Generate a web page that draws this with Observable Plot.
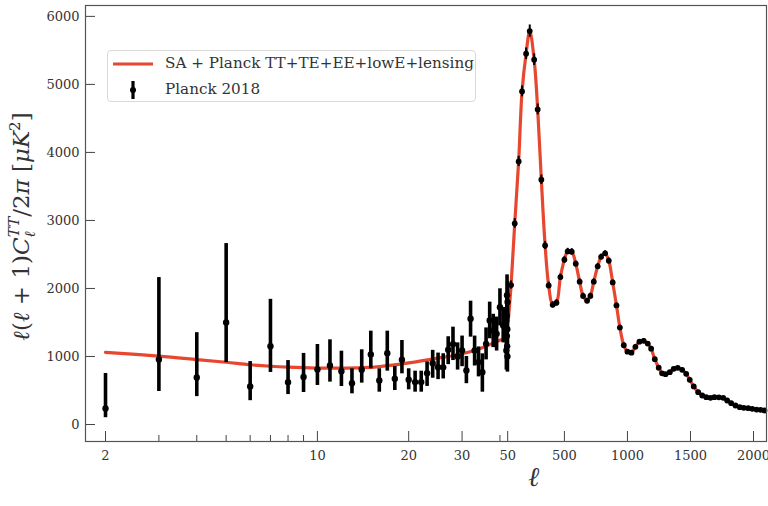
<!DOCTYPE html>
<html>
<head>
<meta charset="utf-8">
<script src="https://cdn.jsdelivr.net/npm/d3@7"></script>
<script src="https://cdn.jsdelivr.net/npm/@observablehq/plot@0.6"></script>
<style>
  html, body { margin: 0; padding: 0; background: white; }
  #wrap { position: relative; width: 768px; height: 506px; }
  #legend { position: absolute; left: 107px; top: 50px; width: 369px; height: 52px;
    border: 1px solid #d9d9d9; border-radius: 4px; background: rgba(255,255,255,0.9);
    font-family: "DejaVu Serif", serif; font-size: 15.2px; color: #333; box-sizing: border-box; }
  #legend .row { position: absolute; left: 57px; white-space: nowrap; line-height: 1; }
  #legend svg { position: absolute; left: 0; top: 0; }
</style>
</head>
<body>
<div id="wrap">
  <div id="chart"></div>
  <div id="legend">
    <svg width="60" height="52">
      <line x1="5" x2="45" y1="13" y2="13" stroke="#e8472f" stroke-width="3.2"/>
      <line x1="25" x2="25" y1="30" y2="48" stroke="black" stroke-width="3.2"/>
      <circle cx="25" cy="39" r="3" fill="black"/>
    </svg>
    <div class="row" style="top:5px">SA + Planck TT+TE+EE+lowE+lensing</div>
    <div class="row" style="top:31px">Planck 2018</div>
  </div>
</div>
<script>
// ---- Data ----
// Unbinned low-ell Planck 2018 points (ell, D_ell, lower, upper)
const lowL  = [2,3,4,5,6,7,8,9,10,11,12,13,14,15,16,17,18,19,20,21,22,23,24,25,26,27,28,29,30,31,32,33,34,35,36,37,38,39,40,41,42,43,44,45,46,47,48,49];
const lowV  = [235,956,690,1500,560,1150,620,700,810,868,784,608,804,1029,647,1049,672,951,657,623,623,755,900,843,840,1100,1180,1000,1088,794,1554,1088,917,769,1186,1529,1382,1333,1725,1456,1088,1600,1300,1900,1150,1400,1000,1800];
const lowLo = [100,485,410,910,350,765,440,470,574,623,559,451,608,819,475,784,500,745,510,475,475,560,680,660,670,880,940,800,850,600,1284,860,700,475,950,1260,1130,1080,1450,1200,800,1300,1000,1600,850,1100,770,1500];
const lowHi = [750,2160,1350,2660,925,1840,940,1045,1176,1245,1078,819,1098,1372,819,1372,853,1235,819,784,784,920,1090,1050,1040,1290,1431,1200,1300,1000,1813,1300,1140,1039,1420,1799,1620,1580,1995,1720,1350,1900,1600,2200,1450,1700,1300,2100];

// Binned high-ell Planck 2018 points
const binL = [77,106,137,164,196,225,260,288,317,347,375,407,437,468,500,526,558,590,621,648,680,706,733,764,791,823,852,883,913,940,971,1000,1032,1063,1095,1129,1161,1188,1217,1248,1275,1302,1336,1367,1399,1434,1466,1494,1526,1561,1593,1625,1659,1690,1725,1760,1791,1823,1857,1891,1923,1958,1990,2024,2056,2087];
const binV = [2050,2956,3868,4897,5451,5784,5363,4632,3598,2632,2044,1760,1790,2167,2422,2545,2540,2363,2100,1890,1818,1890,2100,2326,2465,2515,2407,2088,1750,1425,1165,1070,1056,1142,1218,1230,1190,1115,960,836,752,740,769,819,833,804,745,657,559,475,426,402,392,402,400,392,353,314,279,255,245,240,230,220,216,206];
const binErr = [60,70,75,80,85,90,85,80,70,60,50,45,45,45,45,45,45,40,40,40,40,40,40,40,40,40,40,35,35,35,30,30,30,30,30,30,30,30,25,25,25,25,25,25,25,25,25,20,20,20,20,20,20,20,20,20,20,20,20,20,20,20,20,20,20,20];

// Best-fit theory curve (low-ell part; above ell=77 it follows the binned points)
const thLowL = [2,3,4,5,6,7,8,10,12,14,16,20,25,30,35,40,42,50,60];
const thLowV = [1060,1005,955,915,878,856,843,830,828,835,852,905,975,1040,1130,1240,1275,1430,1650];

// Axis ticks
const yTicks = [0,1000,2000,3000,4000,5000,6000];
const xMajor = [2,10,20,30,50,500,1000,1500,2000];
const xMajorLabels = ["2","10","20","30","50","500","1000","1500","2000"];
const xMinor = [3,4,5,6,7,8,9,40];

// ---- Hybrid axis: log for low ell, linear above the break ----
const LB = 42.1, K = 2404.8;
const T = l => l >= LB ? l : LB - K * Math.log10(LB / l);

const low = lowL.map((l, i) => ({l, v: lowV[i], lo: lowLo[i], hi: lowHi[i]}));
const bin = binL.map((l, i) => ({l, v: binV[i], lo: binV[i] - binErr[i], hi: binV[i] + binErr[i]}));
const theory = thLowL.map((l, i) => ({l, v: thLowV[i]})).concat(binL.map((l, i) => ({l, v: binV[i]})));

const labelMap = new Map(xMajor.map((l, i) => [T(l), xMajorLabels[i]]));
const YLAB = "YLABEL_PLACEHOLDER";

const plot = Plot.plot({
  width: 768, height: 506,
  marginLeft: 85, marginRight: 2, marginTop: 5, marginBottom: 65,
  style: {fontFamily: "DejaVu Serif, serif", fontSize: "13px", color: "#333", background: "white"},
  x: {type: "linear", domain: [T(1.718), 2103]},
  y: {domain: [-250, 6160]},
  marks: [
    Plot.axisY(yTicks, {tickSize: 0, tickPadding: 6, tickFormat: d => String(d), label: null, fontSize: 13}),
    Plot.axisY(yTicks, {tickSize: 10, dx: 10, tickFormat: () => "", label: null, stroke: "#444"}),
    Plot.axisX(xMajor.map(T), {tickSize: 0, tickPadding: 9, tickFormat: d => labelMap.get(d), label: null, fontSize: 13}),
    Plot.axisX(xMajor.map(T), {tickSize: 10, dy: -10, tickFormat: () => "", label: null, stroke: "#444"}),
    Plot.axisX(xMinor.map(T), {tickSize: 6, dy: -6, tickFormat: () => "", label: null, stroke: "#444"}),
    Plot.line(theory, {x: d => T(d.l), y: "v", stroke: "#e8472f", strokeWidth: 3.2, curve: "catmull-rom"}),
    Plot.ruleX(low, {x: d => T(d.l), y1: "lo", y2: "hi", stroke: "black", strokeWidth: 3.6}),
    Plot.dot(low, {x: d => T(d.l), y: "v", r: 3.2, fill: "black"}),
    Plot.ruleX(bin, {x: d => T(d.l), y1: "lo", y2: "hi", stroke: "black", strokeWidth: 2}),
    Plot.dot(bin, {x: d => T(d.l), y: "v", r: 2.9, fill: "black"}),
    Plot.frame({stroke: "#555", strokeWidth: 1.2}),
    Plot.text([YLAB], {frameAnchor: "left", dx: -64, rotate: -90, text: d => d, fontSize: 23, fill: "#333"}),
    Plot.text(["ℓ"], {frameAnchor: "bottom", dx: 107.5, dy: 44, text: d => d, fontSize: 27, fontStyle: "italic", fill: "#333"})
  ]
});
document.getElementById("chart").appendChild(plot);

// Rich y-axis label with sub/superscripts
d3.select(plot).selectAll("text").filter(function() { return this.textContent === YLAB; }).each(function() {
  const t = d3.select(this);
  t.text(null);
  const parts = [
    ["ℓ", {it: true}], ["(", {}], ["ℓ", {it: true}], [" + 1)", {}], ["C", {it: true}],
    ["ℓ", {it: true, size: 15, dy: 6}], ["TT", {it: true, size: 15, dx: -6, dy: -16}],
    ["/2", {dy: 10}], ["π", {it: true}], [" [", {}], ["μK", {it: true}],
    ["2", {size: 15, dy: -9}], ["]", {dy: 9}]
  ];
  for (const [s, o] of parts) {
    const ts = t.append("tspan").text(s);
    if (o.it) ts.attr("font-style", "italic");
    if (o.size) ts.attr("font-size", o.size);
    if (o.dy) ts.attr("dy", o.dy);
    if (o.dx) ts.attr("dx", o.dx);
  }
  t.attr("text-anchor", "start");
  const len = this.getComputedTextLength();
  t.attr("x", -len / 2);
});
</script>
</body>
</html>
